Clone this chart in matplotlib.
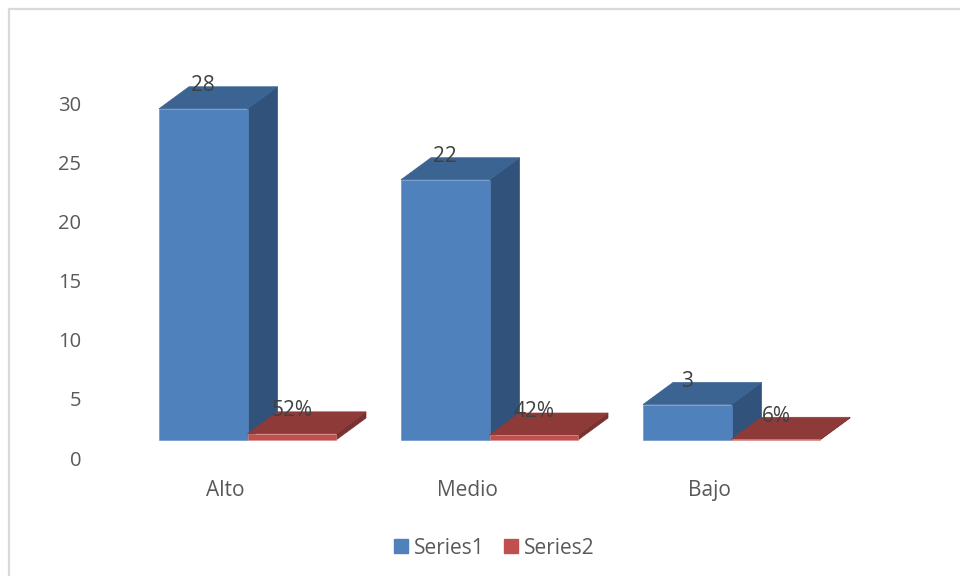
import matplotlib.pyplot as plt
from matplotlib.lines import Line2D
from matplotlib.patches import Patch

plt.rcParams['font.family'] = ['Open Sans', 'DejaVu Sans']

categories = ['Alto', 'Medio', 'Bajo']
series1 = [28, 22, 3]
series2 = [0.52, 0.42, 0.06]
y_ticks = [0, 5, 10, 15, 20, 25, 30]

W, H = 960, 576
# pixels per unit on each axis
px_x = 242
px_y = 11.83
# the axes box in pixels
left, right, top, bottom = 100, 860, 70, 458
cat0_px = 225

bar_w = 88.5 / px_x
depth_x = 30 / px_x
depth_y = 22 / px_y
floor = 18 / px_y  # front of the bars sits above the zero line
offset = -66 / px_x

fig = plt.figure(figsize=(W / 100, H / 100), dpi=100)
ax = fig.add_axes([left / W, 1 - bottom / H, (right - left) / W, (bottom - top) / H])
ax.set_xlim((left - cat0_px) / px_x, (right - cat0_px) / px_x)
ax.set_ylim(0, (bottom - top) / px_y)
ax.patch.set_visible(False)
for s in ax.spines.values():
    s.set_visible(False)


def draw_bars(values, shift, front, roof, side, edge):
    for i, v in enumerate(values):
        x0 = i + shift
        x1 = x0 + bar_w
        y1 = floor + v
        ax.fill([x1, x1 + depth_x, x1 + depth_x, x1],
                [floor, floor + depth_y, y1 + depth_y, y1], color=side, lw=0.5, zorder=2 + i)
        ax.fill([x0, x1, x1 + depth_x, x0 + depth_x],
                [y1, y1, y1 + depth_y, y1 + depth_y], color=roof, lw=0.5, zorder=2 + i)
        ax.bar(x0, v, width=bar_w, bottom=floor, align='edge', color=front,
               edgecolor=edge, linewidth=0.4, zorder=2 + i)


draw_bars(series1, offset, '#4F81BD', '#3C6492', '#30527B', '#5F8CC3')
draw_bars(series2, offset + bar_w, '#C0504D', '#8E3A38', '#7A312F', '#D98B88')

for i, (a, b) in enumerate(zip(series1, series2)):
    ax.text(i - 22 / px_x, floor + a + depth_y + 0.1, str(a), ha='center', va='center',
            fontsize=15, color='#404040', zorder=10)
    ax.text(i + 67 / px_x, floor + b + depth_y + 0.1, f'{b:.0%}', ha='center', va='center',
            fontsize=15, color='#404040', zorder=10)

ax.set_xticks(range(len(categories)))
ax.set_xticklabels(categories)
ax.set_yticks(y_ticks)
ax.tick_params(axis='x', length=0, pad=16, labelsize=15, labelcolor='#595959')
ax.tick_params(axis='y', length=0, pad=13.5, labelsize=14.5, labelcolor='#595959')

handles = [Patch(color='#4F81BD', label='Series1'), Patch(color='#C0504D', label='Series2')]
fig.legend(handles=handles, loc='center', bbox_to_anchor=(494.5 / W, 1 - 548 / H), ncol=2,
           frameon=False, fontsize=15, labelcolor='#595959', handlelength=0.67, handleheight=0.67,
           handletextpad=0.3, columnspacing=0.9)

# chart border, cut off at the right and bottom of the image
fig.add_artist(Line2D([9 / W, 9 / W, 1], [0, 1 - 9 / H, 1 - 9 / H], color='#D9D9D9', lw=1.6))

plt.savefig('out.png', dpi=100)
plt.close(fig)
